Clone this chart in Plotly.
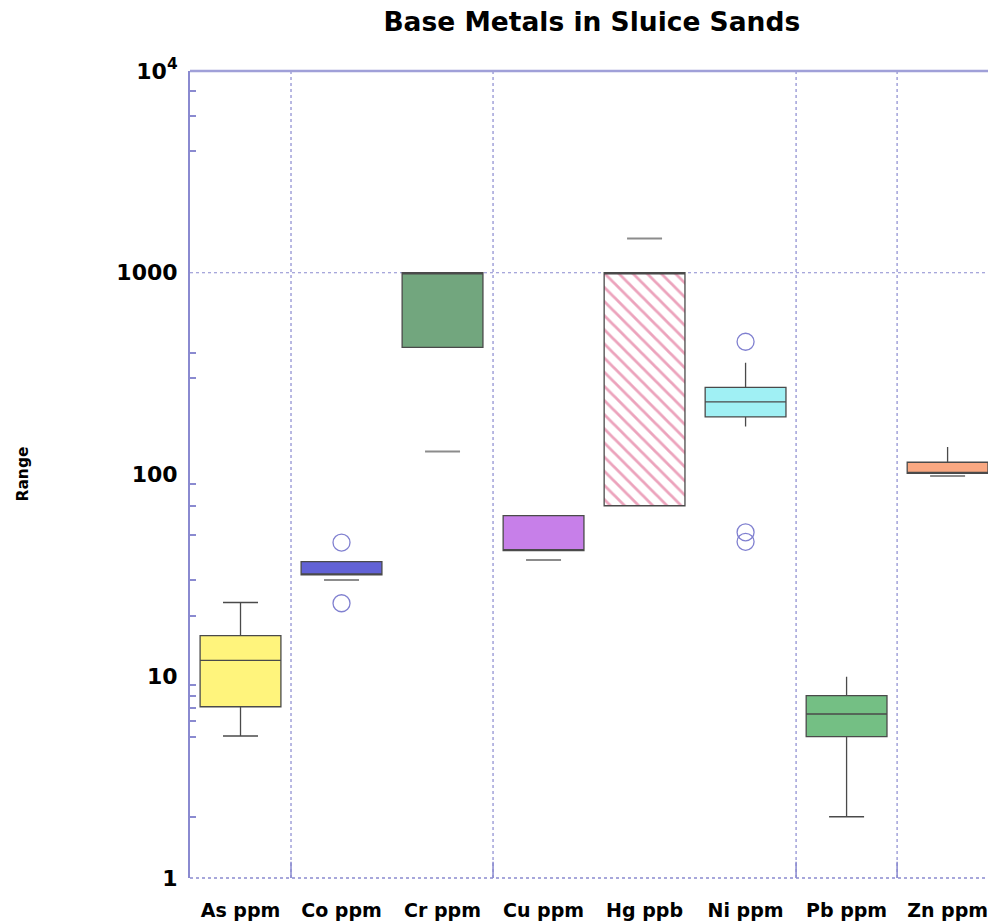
import plotly.graph_objects as go

# ---------------- data ----------------
categories = ["As ppm", "Co ppm", "Cr ppm", "Cu ppm", "Hg ppb", "Ni ppm", "Pb ppm", "Zn ppm"]
q1_vals = [7.06, 31.8, 427, 41.9, 70, 193, 5.02, 101.4]
median_vals = [12.0, 31.8, 1000, 41.9, 1000, 229, 6.5, 101.4]
q3_vals = [15.9, 37.0, 1000, 62.5, 1000, 270, 8.02, 115]
whisker_low = [5.05, None, None, None, None, 173, 2.01, None]
whisker_high = [23.2, None, None, None, None, 358, 9.95, 137]
fill_colors = ["#fff47c", "#6262d6", "#72a67e", "#c77fe9", "rgba(0,0,0,0)",
               "#a0f0f4", "#74bf84", "#f9a882"]

hatched_category = "Hg ppb"

dark_cap_cats = ["As ppm", "As ppm", "Pb ppm"]
dark_cap_vals = [5.05, 23.2, 2.01]
gray_cap_cats = ["Co ppm", "Cr ppm", "Cu ppm", "Hg ppb", "Zn ppm"]
gray_cap_vals = [30.0, 130, 37.7, 1480, 98.3]

outlier_cats = ["Co ppm", "Co ppm", "Ni ppm", "Ni ppm", "Ni ppm"]
outlier_vals = [46.0, 23.0, 455, 51.7, 46.4]

ytick_vals = [1, 10, 100, 1000, 10000]
ytick_text = ["1", "10", "100", "1000", "10<sup>4</sup>"]
yminor_vals = [2, 5, 6, 7, 8, 9, 20, 30, 50, 70, 90, 300, 400, 4000, 6000, 8000]
grid_y_vals = [1000]
divider_after = ["As ppm", "Cr ppm", "Ni ppm", "Pb ppm"]

title_text = "Base Metals in Sluice Sands"
y_title = "Range"

# ---------------- styles ----------------
FONT = "DejaVu Sans"
AXIS_COL = "#8a8ad0"
BOX_LINE = "#4a4a4a"
BOX_W = 0.8

fig = go.Figure()

# hatched box fill (Hg) drawn as a patterned bar from q1 to q3
hi = categories.index(hatched_category)
fig.add_trace(go.Bar(
    x=[hatched_category], y=[q3_vals[hi] - q1_vals[hi]], base=[q1_vals[hi]],
    width=BOX_W,
    marker=dict(color="white", line=dict(width=0),
                pattern=dict(shape="\\", fgcolor="#d9487a", bgcolor="white",
                             size=10, solidity=0.28)),
    showlegend=False, hoverinfo="skip"))

for i, cat in enumerate(categories):
    lo = whisker_low[i] if whisker_low[i] is not None else q1_vals[i]
    hi_w = whisker_high[i] if whisker_high[i] is not None else q3_vals[i]
    fig.add_trace(go.Box(
        x=[cat], q1=[q1_vals[i]], median=[median_vals[i]], q3=[q3_vals[i]],
        lowerfence=[lo], upperfence=[hi_w],
        width=BOX_W, whiskerwidth=0,
        fillcolor=fill_colors[i],
        line=dict(color=BOX_LINE, width=1.3),
        boxpoints=False, showlegend=False, name=cat))

fig.add_trace(go.Scatter(
    x=dark_cap_cats, y=dark_cap_vals, mode="markers",
    marker=dict(symbol="line-ew", size=25, line=dict(color="#4a4a4a", width=1.5)),
    showlegend=False, hoverinfo="skip"))
fig.add_trace(go.Scatter(
    x=gray_cap_cats, y=gray_cap_vals, mode="markers",
    marker=dict(symbol="line-ew", size=25, line=dict(color="#8c8c8c", width=2)),
    showlegend=False, hoverinfo="skip"))
fig.add_trace(go.Scatter(
    x=outlier_cats, y=outlier_vals, mode="markers",
    marker=dict(symbol="circle-open", size=17, color="#8080d0",
                line=dict(color="#8080d0", width=1.3)),
    showlegend=False, hoverinfo="skip"))

# dividers and borders
shapes = []
for cat in divider_after:
    xv = categories.index(cat) + 0.5
    shapes.append(dict(type="line", xref="x", yref="paper", x0=xv, x1=xv, y0=0, y1=1,
                       line=dict(color=AXIS_COL, width=1.2, dash="dot"), layer="below"))
    shapes.append(dict(type="line", xref="x", yref="paper", x0=xv, x1=xv, y0=0, y1=0.02,
                       line=dict(color=AXIS_COL, width=1.5), layer="below"))
for yv in grid_y_vals:
    shapes.append(dict(type="line", xref="paper", yref="y", x0=0, x1=1, y0=yv, y1=yv,
                       line=dict(color=AXIS_COL, width=1.2, dash="dot"), layer="below"))
shapes.append(dict(type="line", xref="paper", yref="paper", x0=0, x1=1, y0=1, y1=1,
                   line=dict(color="#a0a0d8", width=2.5), layer="below"))
shapes.append(dict(type="line", xref="paper", yref="paper", x0=0, x1=1, y0=0, y1=0,
                   line=dict(color=AXIS_COL, width=1.5, dash="dot"), layer="below"))

fig.update_layout(
    width=988, height=921,
    margin=dict(l=190, r=0, t=71, b=43),
    paper_bgcolor="white", plot_bgcolor="white",
    boxmode="overlay", barmode="overlay",
    title=dict(text=title_text, x=0.599, xref="container", xanchor="center",
               y=1 - 22 / 921, yref="container", yanchor="middle",
               font=dict(family=FONT, size=26.5, weight="bold", color="black")),
    shapes=shapes,
    annotations=[dict(text=y_title, xref="paper", yref="paper", x=-0.2105, y=0.5,
                      xanchor="center", yanchor="middle", textangle=-90, showarrow=False,
                      font=dict(family=FONT, size=15.5, weight="bold", color="black"))],
    xaxis=dict(type="category", categoryorder="array", categoryarray=categories,
               range=[-0.5, 7.4], showgrid=False, showline=False, zeroline=False,
               ticks="", ticklabelstandoff=19,
               tickfont=dict(family=FONT, size=19, weight="bold", color="black")),
    yaxis=dict(type="log", range=[0, 4], tickmode="array", tickvals=ytick_vals,
               ticktext=ytick_text, showgrid=False, zeroline=False,
               showline=True, linecolor=AXIS_COL, linewidth=2, ticks="",
               ticklabelstandoff=6,
               tickfont=dict(family=FONT, size=22, weight="bold", color="black"),
               minor=dict(tickmode="array", tickvals=yminor_vals, ticks="inside",
                          ticklen=6, tickcolor=AXIS_COL, tickwidth=1.5, showgrid=False)),
)

fig.write_html("out.html", config={"displayModeBar": False},
               post_script="document.body.style.margin='0';document.body.style.overflow='hidden';")
